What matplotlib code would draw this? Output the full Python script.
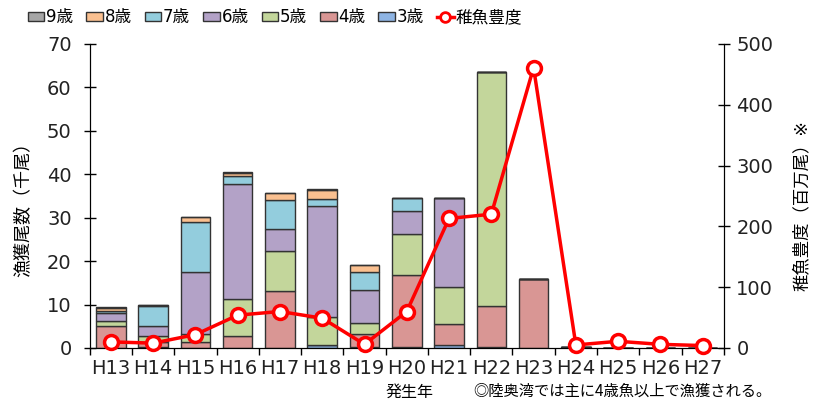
import numpy as np
import matplotlib.pyplot as plt
from matplotlib.lines import Line2D

plt.rcParams['font.family'] = ['DejaVu Sans', 'Noto Sans CJK JP']

years = ['H13', 'H14', 'H15', 'H16', 'H17', 'H18', 'H19', 'H20',
         'H21', 'H22', 'H23', 'H24', 'H25', 'H26', 'H27']

# catch by age (thousand fish), stacked bottom -> top
age3 = [0.1, 0.3, 0.0, 0.0, 0.1, 0.8, 0.2, 0.3, 0.6, 0.3, 0.0, 0.0, 0, 0, 0]
age4 = [5.0, 1.1, 1.4, 2.7, 13.0, 0.0, 3.1, 16.6, 5.0, 9.3, 15.9, 0.3, 0, 0, 0]
age5 = [1.15, 1.3, 1.9, 8.6, 9.3, 6.4, 2.5, 9.4, 8.4, 54.0, 0, 0, 0, 0, 0]
age6 = [1.75, 2.4, 14.3, 26.4, 5.1, 25.6, 7.6, 5.3, 20.6, 0, 0, 0, 0, 0, 0]
age7 = [0.6, 4.6, 11.4, 1.9, 6.5, 1.6, 4.1, 3.0, 0, 0, 0, 0, 0, 0, 0]
age8 = [0.7, 0.1, 1.15, 0.7, 1.7, 1.9, 1.6, 0, 0, 0, 0, 0, 0, 0, 0]
age9 = [0.2, 0, 0, 0.3, 0, 0.4, 0, 0, 0, 0, 0, 0, 0, 0, 0]

# juvenile abundance (million fish)
juvenile = [10, 8, 22, 54, 60, 49, 6, 60, 213, 220, 461, 5, 11, 6, 4]

ages = [
    ('3歳', age3, '#8EB4E3'),
    ('4歳', age4, '#D99694'),
    ('5歳', age5, '#C3D69B'),
    ('6歳', age6, '#B3A2C7'),
    ('7歳', age7, '#93CDDD'),
    ('8歳', age8, '#FAC090'),
    ('9歳', age9, '#A6A6A6'),
]

fig = plt.figure(figsize=(8.16, 4.03), dpi=100)
ax = fig.add_axes([0.110, 0.1365, 0.777, 0.7545])
x = np.arange(len(years))

handles = {}
bottom = np.zeros(len(years))
for name, vals, col in ages:
    vals = np.array(vals, dtype=float)
    b = ax.bar(x, vals, 0.7, bottom=bottom, color=col, edgecolor='#333333',
               linewidth=1.0, zorder=2)
    handles[name] = b
    bottom += vals

ax.set_xlim(-0.5, len(years) - 0.5)
ax.set_ylim(0, 70)
ax.set_yticks(range(0, 71, 10))
ax.set_xticks(x)
ax.set_xticklabels(years)
ax.set_xticks(np.arange(-0.5, len(years), 1), minor=True)
ax.tick_params(axis='x', which='major', length=0, labelsize=14, pad=8,
               labelcolor='#222222')
ax.tick_params(axis='x', which='minor', length=5, direction='out', width=1)
ax.tick_params(axis='y', direction='inout', length=8, labelsize=14, width=1,
               pad=9, labelcolor='#222222')
ax.spines['top'].set_visible(False)
ax.set_ylabel('漁獲尾数（千尾）', fontsize=13)
ax.yaxis.set_label_coords(-0.090, 0.47)

ax2 = ax.twinx()
line, = ax2.plot(x, juvenile, color='#FF0000', lw=2.5, marker='o',
                 markersize=10, markerfacecolor='white',
                 markeredgecolor='#FF0000', markeredgewidth=2.5,
                 clip_on=False, zorder=5)
ax2.set_ylim(0, 500)
ax2.set_yticks(range(0, 501, 100))
ax2.tick_params(axis='y', direction='inout', length=8, labelsize=14, width=1,
                pad=5, labelcolor='#222222')
ax2.spines['top'].set_visible(False)
ax2.set_ylabel('稚魚豊度（百万尾）※', fontsize=12.5)
ax2.yaxis.set_label_coords(1.109, 0.47)

leg_handles = [handles[n] for n in ['9歳', '8歳', '7歳', '6歳', '5歳', '4歳', '3歳']]
leg_handles.append(Line2D([], [], color='#FF0000', lw=2.5, marker='o',
                          markersize=7, markerfacecolor='white',
                          markeredgewidth=2))
leg_labels = ['9歳', '8歳', '7歳', '6歳', '5歳', '4歳', '3歳', '稚魚豊度']
fig.legend(leg_handles, leg_labels, loc='center left',
           bbox_to_anchor=(0.034, 0.957), ncol=8, frameon=False, fontsize=12,
           handlelength=1.0, handleheight=0.45, handletextpad=0.1,
           columnspacing=0.78, borderaxespad=0, borderpad=0)

fig.text(0.502, 0.008, '発生年', fontsize=11.5, ha='center', va='bottom')
fig.text(0.580, 0.008, '◎陸奥湾では主に4歳魚以上で漁獲される。', fontsize=11,
         ha='left', va='bottom', family=['Noto Sans CJK JP'])

fig.savefig('out.png', dpi=100)
